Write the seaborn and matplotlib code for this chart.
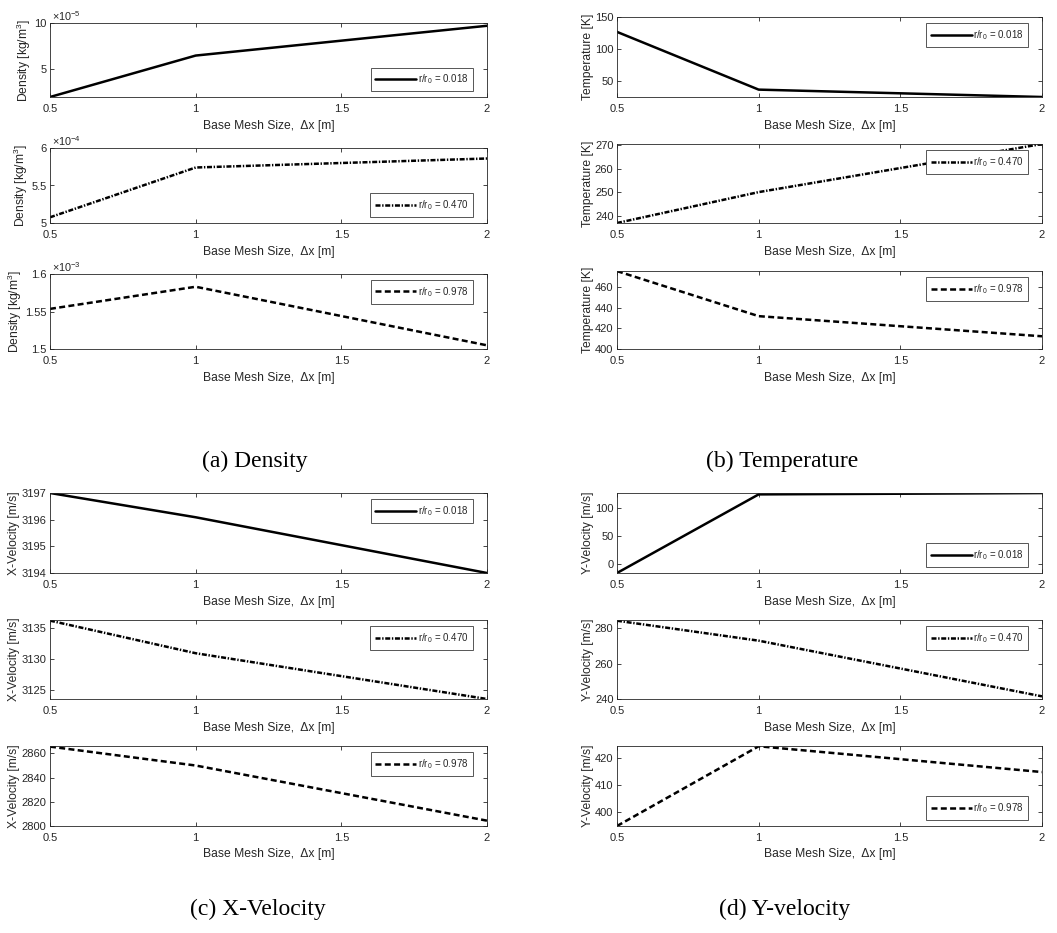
import matplotlib
matplotlib.use("Agg")
import matplotlib.pyplot as plt
import seaborn as sns
import pandas as pd
from matplotlib.ticker import FixedLocator, FuncFormatter

# ---- data -----------------------------------------------------------------
mesh_size = [0.5, 1.0, 2.0]
ratio_labels = ["0.018", "0.470", "0.978"]

density_018 = [2.0e-5, 6.48e-5, 9.7e-5]
density_470 = [5.076e-4, 5.74e-4, 5.86e-4]
density_978 = [1.5535e-3, 1.583e-3, 1.5049e-3]

temperature_018 = [126.8, 36.8, 25.3]
temperature_470 = [236.9, 250.0, 270.4]
temperature_978 = [475.9, 432.0, 412.4]

xvel_018 = [3197.0, 3196.09, 3194.0]
xvel_470 = [3136.1, 3130.9, 3123.6]
xvel_978 = [2865.5, 2849.9, 2804.4]

yvel_018 = [-16.3, 124.7, 127.1]
yvel_470 = [284.3, 273.0, 241.5]
yvel_978 = [394.6, 424.6, 414.9]

x_ticks = [0.5, 1, 1.5, 2]
x_tick_labels = ["0.5", "1", "1.5", "2"]

density_ticks = [[5e-5, 10e-5], [5e-4, 5.5e-4, 6e-4], [1.5e-3, 1.55e-3, 1.6e-3]]
density_exponents = [-5, -4, -3]
temperature_ticks = [[50, 100, 150], [240, 250, 260, 270], [400, 420, 440, 460]]
xvel_ticks = [[3194, 3195, 3196, 3197], [3125, 3130, 3135], [2800, 2820, 2840, 2860]]
yvel_ticks = [[0, 50, 100], [240, 260, 280], [400, 410, 420]]

captions = ["(a) Density", "(b) Temperature", "(c) X-Velocity", "(d) Y-velocity"]

# ---- style ----------------------------------------------------------------
sns.set_style("white")
plt.rcParams["font.family"] = ["Liberation Sans", "DejaVu Sans"]
plt.rcParams["mathtext.fontset"] = "custom"
plt.rcParams["mathtext.rm"] = "Liberation Sans"
plt.rcParams["mathtext.it"] = "Liberation Sans:italic"
plt.rcParams["lines.scale_dashes"] = False

AX_COLOR = "#262626"
TEXT_COLOR = "#262626"
W, H = 1057, 933

STYLES = ["-", (0, (3.6, 1.2, 1.0, 1.2)), (0, (4.3, 2.4))]

fig = plt.figure(figsize=(W / 100, H / 100), dpi=100)


def box(left, top, right, bottom):
    return [left / W, 1 - bottom / H, (right - left) / W, (bottom - top) / H]


def draw_panel(rects, series, ylabel, yticks, ylims, legend_locs, exponents=None):
    for i, (rect, vals) in enumerate(zip(rects, series)):
        ax = fig.add_axes(box(*rect))
        df = pd.DataFrame({"dx": mesh_size, "value": vals})
        sns.lineplot(data=df, x="dx", y="value", ax=ax, color="black",
                     linewidth=1.8, linestyle=STYLES[i],
                     label=r"r/r$\mathregular{_0}$ = " + ratio_labels[i])
        ax.set_xlim(0.5, 2)
        ax.set_ylim(*ylims[i])
        ax.xaxis.set_major_locator(FixedLocator(x_ticks))
        ax.set_xticklabels(x_tick_labels)
        ax.yaxis.set_major_locator(FixedLocator(yticks[i]))
        if exponents is not None:
            e = exponents[i]
            ax.yaxis.set_major_formatter(
                FuncFormatter(lambda v, p, e=e: f"{round(v / 10.0 ** e, 6):g}"))
            ax.text(0.005, 1.005, r"$\times$10$\mathregular{^{%d}}$" % e,
                    transform=ax.transAxes, fontsize=7.8, color=TEXT_COLOR,
                    ha="left", va="bottom")
        else:
            ax.yaxis.set_major_formatter(FuncFormatter(lambda v, p: f"{v:g}"))
        ax.tick_params(direction="in", length=3, width=0.6, colors=AX_COLOR,
                       labelcolor=TEXT_COLOR, labelsize=8,
                       top=True, right=True, bottom=True, left=True)
        ax.tick_params(axis="x", pad=5)
        ax.tick_params(axis="y", pad=2.5)
        for s in ax.spines.values():
            s.set_color(AX_COLOR)
            s.set_linewidth(0.6)
        ax.set_xlabel("Base Mesh Size,  Δx [m]", fontsize=8.7, color=TEXT_COLOR,
                      labelpad=4)
        ax.set_ylabel(ylabel, fontsize=8.7, color=TEXT_COLOR, labelpad=1)
        loc = legend_locs[i]
        anchor = (0.968, 0.92) if loc == "upper right" else (0.968, 0.08)
        leg = ax.legend(loc=loc, bbox_to_anchor=anchor, borderaxespad=0,
                        fontsize=7, frameon=True, fancybox=False,
                        framealpha=1, edgecolor="#555555", handlelength=4.2,
                        handletextpad=0.15, borderpad=0.5)
        leg.get_frame().set_linewidth(0.7)
        for t in leg.get_texts():
            t.set_color(TEXT_COLOR)


left_cols = (50, 487)
right_cols = (617, 1042)
top_rows = [(23, 97), (148, 223), (274, 349)]
top_rows_b = [(17, 97), (144, 223), (271, 349)]
bottom_rows = [(493, 573), (620, 699), (746, 826)]

draw_panel([(left_cols[0], t, left_cols[1], b) for t, b in top_rows],
           [density_018, density_470, density_978],
           r"Density [kg/m$\mathregular{^3}$]", density_ticks,
           [(2e-5, 10e-5), (5e-4, 6e-4), (1.5e-3, 1.6e-3)],
           ["lower right", "lower right", "upper right"],
           exponents=density_exponents)

draw_panel([(right_cols[0], t, right_cols[1], b) for t, b in top_rows_b],
           [temperature_018, temperature_470, temperature_978],
           "Temperature [K]", temperature_ticks,
           [(25.3, 150), (236.9, 270.4), (400, 476)],
           ["upper right", "upper right", "upper right"])

draw_panel([(left_cols[0], t, left_cols[1], b) for t, b in bottom_rows],
           [xvel_018, xvel_470, xvel_978],
           "X-Velocity [m/s]", xvel_ticks,
           [(3194, 3197), (3123.6, 3136.2), (2800, 2866)],
           ["upper right", "upper right", "upper right"])

draw_panel([(right_cols[0], t, right_cols[1], b) for t, b in bottom_rows],
           [yvel_018, yvel_470, yvel_978],
           "Y-Velocity [m/s]", yvel_ticks,
           [(-16.3, 127.2), (240, 284.7), (394.6, 424.7)],
           ["lower right", "upper right", "lower right"])

# ---- captions -------------------------------------------------------------
caption_pos = [(255, 461), (782, 461), (258, 909), (785, 909)]
for text, (cx, cy) in zip(captions, caption_pos):
    fig.text(cx / W, 1 - cy / H, text, ha="center", va="center",
             fontsize=17, family=["Liberation Serif", "DejaVu Serif"],
             color="black")

fig.savefig("out.png", dpi=100)
